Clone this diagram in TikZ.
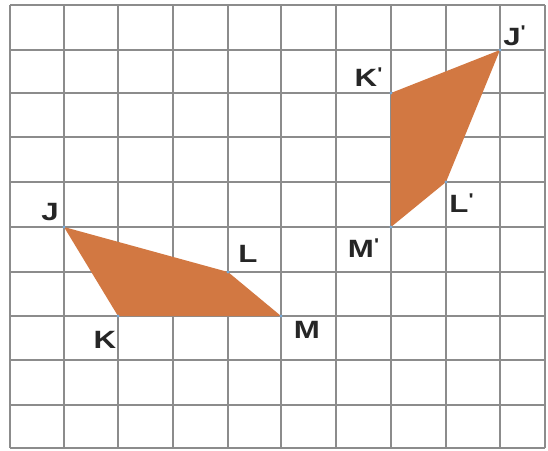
\documentclass[tikz,border=0pt]{standalone}
\usepackage{fontspec}
\setmainfont{Liberation Sans}
\definecolor{shapefill}{RGB}{210,120,66}
\definecolor{gridc}{RGB}{140,140,140}
\definecolor{dotc}{RGB}{120,170,215}
\newcommand{\prmark}{\raisebox{0.3em}{\fontsize{17}{17}\selectfont\textquotesingle}}
\begin{document}
\begin{tikzpicture}[x=1pt,y=-1pt,
  gridline/.style={gridc, line width=1.6pt},
  lab/.style={font=\fontsize{25}{25}\selectfont\bfseries, xscale=1.25, inner sep=0pt, text=black!85},
  vdot/.style={dotc}]
\useasboundingbox (0,0) rectangle (548,450);
\fill[white] (0,0) rectangle (548,450);
\foreach \x in {10,64,118,173,228,281,336,391,446,500,545}
  \draw[gridline] (\x,5) -- (\x,448);
\foreach \y in {5,50,93,137,182,227,272,316,360,405,448}
  \draw[gridline] (10,\y) -- (545,\y);
% vertices
\coordinate (J) at (64,227);
\coordinate (K) at (118,316);
\coordinate (L) at (228,272);
\coordinate (M) at (281,316);
\coordinate (J2) at (500,50);
\coordinate (K2) at (391,93);
\coordinate (L2) at (446,182);
\coordinate (M2) at (391,227);
\fill[shapefill] (J) -- (L) -- (M) -- (K) -- cycle;
\fill[shapefill] (J2) -- (L2) -- (M2) -- (K2) -- cycle;
\foreach \p in {J,K,L,M,J2,K2,L2,M2}
  \fill[vdot] (\p) circle (1.6);
% labels
\node[lab] (lJ) at (50,212) {J};
\node[lab] (lK) at (105,340) {K};
\node[lab] (lL) at (248,254) {L};
\node[lab] (lM) at (307,330) {M};
\node[lab] (lJ2) at (512,36) {J\rlap{\prmark}};
\node[lab] (lK2) at (366,77) {K\rlap{\prmark}};
\node[lab] (lL2) at (459,203) {L\rlap{\prmark}};
\node[lab] (lM2) at (361,248) {M\rlap{\prmark}};
\end{tikzpicture}
\end{document}
